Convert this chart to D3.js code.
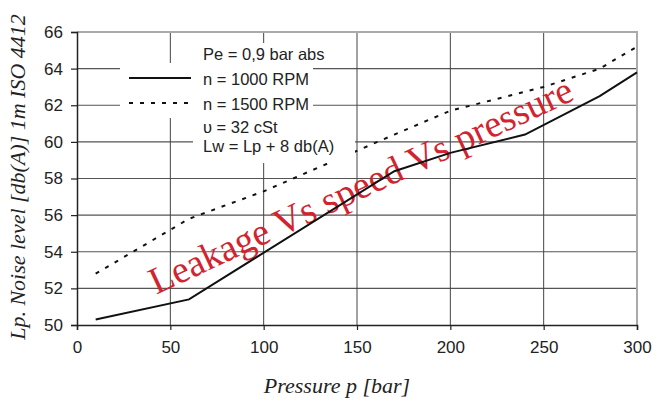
<!DOCTYPE html>
<html>
<head>
<meta charset="utf-8">
<script src="https://cdn.jsdelivr.net/npm/d3@7"></script>
<style>
  html, body { margin: 0; padding: 0; background: #fff; }
  svg { display: block; }
</style>
</head>
<body>
<svg id="chart"></svg>
<script>
// values
const pressure1000 = [10, 60, 170, 200, 240, 280, 300];
const noise1000 = [50.3, 51.4, 58.4, 59.4, 60.4, 62.5, 63.8];
const pressure1500 = [10, 60, 100, 170, 200, 250, 280, 300];
const noise1500 = [52.8, 55.8, 57.3, 60.4, 61.7, 63.0, 64.0, 65.2];
const xTicks = [0, 50, 100, 150, 200, 250, 300];
const yTicks = [50, 52, 54, 56, 58, 60, 62, 64, 66];
const notes = ["Pe = 0,9 bar abs", "n = 1000 RPM", "n = 1500 RPM", "υ = 32 cSt", "Lw = Lp + 8 db(A)"];

const W = 663, H = 401;
const svg = d3.select("#chart").attr("width", W).attr("height", H);

const x = d3.scaleLinear().domain([0, 300]).range([77, 637]);
const y = d3.scaleLinear().domain([50, 66]).range([325, 32]);

const sans = "'Liberation Sans', Arial, sans-serif";
const serif = "'Liberation Serif', 'Times New Roman', serif";

// grid
const grid = svg.append("g");
grid.selectAll("line.h").data(yTicks.slice(1, -1)).join("line")
  .attr("x1", x(0)).attr("x2", x(300))
  .attr("y1", d => y(d)).attr("y2", d => y(d))
  .attr("stroke", "#555").attr("stroke-width", 1.2);
grid.selectAll("line.v").data(xTicks.slice(1, -1)).join("line")
  .attr("x1", d => x(d)).attr("x2", d => x(d))
  .attr("y1", y(66)).attr("y2", y(50))
  .attr("stroke", "#444").attr("stroke-width", 1);

// top and right frame (light grey)
svg.append("path")
  .attr("d", `M${x(0)},${y(66)} H${x(300)} V${y(50)}`)
  .attr("fill", "none").attr("stroke", "#aaa").attr("stroke-width", 2);

// watermark
svg.append("text")
  .attr("transform", "translate(366,197) rotate(-25)")
  .attr("text-anchor", "middle")
  .attr("font-family", serif).attr("font-size", 38)
  .attr("fill", "#d2232f")
  .text("Leakage Vs speed Vs pressure");

// series
const line = d3.line().x(d => x(d[0])).y(d => y(d[1]));
svg.append("path")
  .datum(d3.zip(pressure1000, noise1000))
  .attr("d", line).attr("fill", "none")
  .attr("stroke", "#111").attr("stroke-width", 2);
svg.append("path")
  .datum(d3.zip(pressure1500, noise1500))
  .attr("d", line).attr("fill", "none")
  .attr("stroke", "#111").attr("stroke-width", 2)
  .attr("stroke-dasharray", "4,7");

// axes
const yAxis = svg.append("g")
  .attr("transform", `translate(${x(0)},0)`)
  .call(d3.axisLeft(y).tickValues(yTicks).tickSize(6).tickPadding(8));
const xAxis = svg.append("g")
  .attr("transform", `translate(0,${y(50)})`)
  .call(d3.axisBottom(x).tickValues(xTicks).tickSize(5).tickPadding(11));
[xAxis, yAxis].forEach(a => {
  a.select(".domain").attr("stroke", "#222").attr("stroke-width", 1.5);
  a.selectAll(".tick line").attr("stroke", "#222").attr("stroke-width", 1.2);
  a.selectAll(".tick text").attr("font-family", sans).attr("font-size", 17).attr("fill", "#222");
});

// legend / note box (white backgrounds hide the grid)
const boxes = [
  [193, 43, 313, 63],
  [120, 63, 313, 118],
  [193, 118, 355, 163]
];
svg.append("g").selectAll("rect").data(boxes).join("rect")
  .attr("x", d => d[0]).attr("y", d => d[1])
  .attr("width", d => d[2] - d[0]).attr("height", d => d[3] - d[1])
  .attr("fill", "#fff");

const noteY = [60, 85, 110, 133, 152];
svg.append("g").selectAll("text").data(notes).join("text")
  .attr("x", 203).attr("y", (d, i) => noteY[i])
  .attr("font-family", sans).attr("font-size", 16.5).attr("fill", "#222")
  .text(d => d);
svg.append("line").attr("x1", 129).attr("x2", 191).attr("y1", 78).attr("y2", 78)
  .attr("stroke", "#111").attr("stroke-width", 2);
svg.append("line").attr("x1", 129).attr("x2", 193).attr("y1", 103).attr("y2", 103)
  .attr("stroke", "#111").attr("stroke-width", 2).attr("stroke-dasharray", "4,7");

// axis titles
svg.append("text")
  .attr("transform", "translate(25,177) rotate(-90)")
  .attr("text-anchor", "middle")
  .attr("font-family", serif).attr("font-style", "italic").attr("font-size", 22)
  .attr("fill", "#222")
  .text("Lp. Noise level [db(A)] 1m ISO 4412");
svg.append("text")
  .attr("x", 337).attr("y", 393)
  .attr("text-anchor", "middle")
  .attr("font-family", serif).attr("font-style", "italic").attr("font-size", 22)
  .attr("fill", "#222")
  .text("Pressure p [bar]");
</script>
</body>
</html>
